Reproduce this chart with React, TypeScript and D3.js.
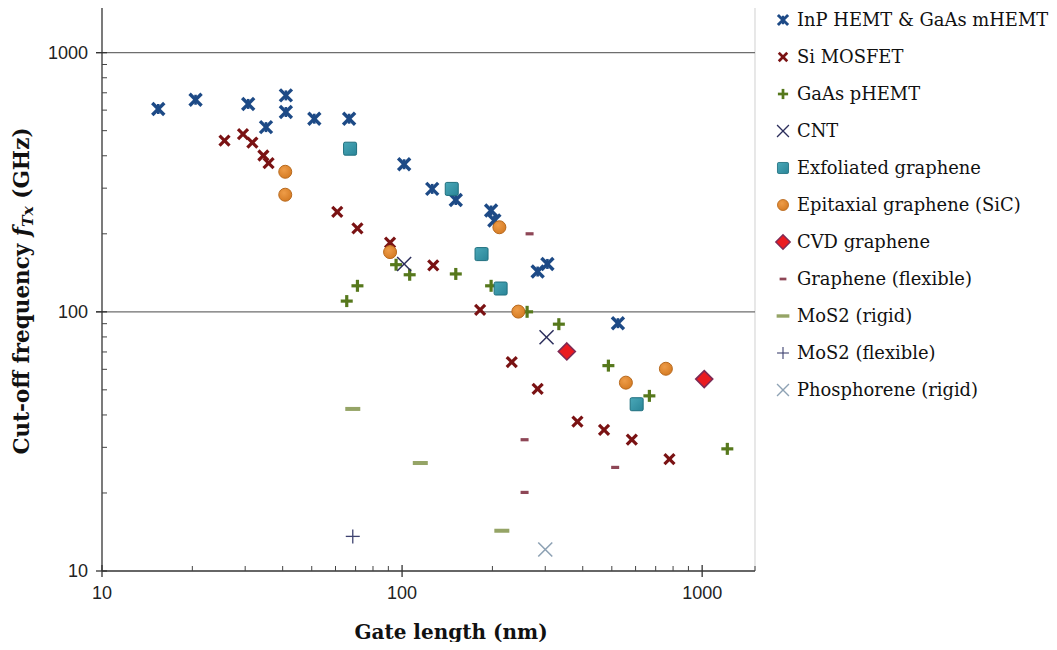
import React from "react";
import * as d3 from "d3";

// Gate length (nm) and cut-off frequency (GHz) per device family
const inpHemtX = [15.4, 20.5, 30.7, 41, 41, 35.2, 51, 66.6, 101.6, 126, 151, 198, 203, 283, 305, 524];
const inpHemtY = [606, 658, 634, 684, 590, 516, 556, 556, 371, 298, 270, 246, 225, 143, 153, 90.4];

const siMosfetX = [25.6, 29.5, 31.7, 34.5, 35.9, 60.8, 71, 91.2, 127, 182, 232, 283, 384, 471, 583, 778];
const siMosfetY = [458, 485, 450, 401, 375, 243, 210, 185, 151, 101.8, 64, 50.4, 37.7, 35, 32.1, 27];

const gaasPhemtX = [65.4, 71, 95.5, 106, 151, 198, 261, 333, 487, 667, 1213];
const gaasPhemtY = [110, 126, 152, 139, 140, 126, 100, 89.6, 62, 47.4, 29.6];

const cntX = [101.6, 303];
const cntY = [153, 79.8];

const exfoliatedX = [67.1, 146.4, 184, 213, 605];
const exfoliatedY = [426, 298, 167, 123, 44];

const epitaxialX = [40.8, 40.8, 91.2, 211, 244, 557, 757];
const epitaxialY = [347, 283, 170, 212, 100.2, 53.3, 60.3];

const cvdX = [354, 1016];
const cvdY = [70.3, 55];

const grapheneFlexX = [266, 256, 513, 256];
const grapheneFlexY = [200, 32.1, 25.1, 20.1];

const mos2RigidX = [68.5, 115, 215];
const mos2RigidY = [42.2, 26.1, 14.3];

const mos2FlexX = [68.5];
const mos2FlexY = [13.6];

const phosphoreneX = [300];
const phosphoreneY = [12.1];

const seriesNames = [
  "InP HEMT & GaAs mHEMT",
  "Si MOSFET",
  "GaAs pHEMT",
  "CNT",
  "Exfoliated graphene",
  "Epitaxial graphene (SiC)",
  "CVD graphene",
  "Graphene (flexible)",
  "MoS2 (rigid)",
  "MoS2 (flexible)",
  "Phosphorene (rigid)",
];

const xMajorTicks = [10, 100, 1000];
const yMajorTicks = [10, 100, 1000];

type Kind =
  | "star" | "xbold" | "plusbold" | "xthin" | "square" | "circle"
  | "diamond" | "dashShort" | "dashLong" | "plusthin" | "xlight";

const seriesKinds: Kind[] = [
  "star", "xbold", "plusbold", "xthin", "square", "circle",
  "diamond", "dashShort", "dashLong", "plusthin", "xlight",
];

const seriesData: [number[], number[]][] = [
  [inpHemtX, inpHemtY],
  [siMosfetX, siMosfetY],
  [gaasPhemtX, gaasPhemtY],
  [cntX, cntY],
  [exfoliatedX, exfoliatedY],
  [epitaxialX, epitaxialY],
  [cvdX, cvdY],
  [grapheneFlexX, grapheneFlexY],
  [mos2RigidX, mos2RigidY],
  [mos2FlexX, mos2FlexY],
  [phosphoreneX, phosphoreneY],
];

const W = 1057;
const H = 650;
const left = 102;
const right = 755;
const top = 7;
const bottom = 571;

const x = d3.scaleLog().domain([10, 1500]).range([left, right]);
const y = d3.scaleLog().domain([10, 1500]).range([bottom, top]);

function Marker({ kind, cx, cy, scale = 1 }: { kind: Kind; cx: number; cy: number; scale?: number }) {
  const t = `translate(${cx},${cy}) scale(${scale})`;
  switch (kind) {
    case "star": {
      const s = 6;
      return (
        <g transform={t} stroke="#1d4a86" strokeWidth={3.4} strokeLinecap="butt">
          <line x1={-s} y1={-s} x2={s} y2={s} />
          <line x1={-s} y1={s} x2={s} y2={-s} />
          <line x1={0} y1={-s + 1} x2={0} y2={s - 1} strokeWidth={2.6} />
        </g>
      );
    }
    case "xbold": {
      const s = 5;
      return (
        <g transform={t} stroke="#7a1213" strokeWidth={3.2}>
          <line x1={-s} y1={-s} x2={s} y2={s} />
          <line x1={-s} y1={s} x2={s} y2={-s} />
        </g>
      );
    }
    case "plusbold": {
      const s = 6;
      return (
        <g transform={t} stroke="#56781c" strokeWidth={3.2}>
          <line x1={-s} y1={0} x2={s} y2={0} />
          <line x1={0} y1={-s} x2={0} y2={s} />
        </g>
      );
    }
    case "xthin": {
      const s = 7;
      return (
        <g transform={t} stroke="#2c2f5c" strokeWidth={1.5}>
          <line x1={-s} y1={-s} x2={s} y2={s} />
          <line x1={-s} y1={s} x2={s} y2={-s} />
        </g>
      );
    }
    case "square":
      return (
        <rect transform={t} x={-6.5} y={-6.5} width={13} height={13} rx={1.5}
          fill="url(#gSquare)" stroke="#1f6f7e" strokeWidth={1} />
      );
    case "circle":
      return <circle transform={t} r={6.5} fill="url(#gCircle)" stroke="#b8691d" strokeWidth={1} />;
    case "diamond": {
      const s = 8.5;
      return (
        <path transform={t} d={`M0,${-s}L${s},0L0,${s}L${-s},0Z`}
          fill="#ea1a20" stroke="#7d2a55" strokeWidth={1.6} />
      );
    }
    case "dashShort":
      return <rect transform={t} x={-4} y={-1.6} width={8} height={3.2} fill="#8e4656" />;
    case "dashLong":
      return <rect transform={t} x={-7.5} y={-2} width={15} height={4} fill="#95a466" />;
    case "plusthin": {
      const s = 7;
      return (
        <g transform={t} stroke="#3e4270" strokeWidth={1.3}>
          <line x1={-s} y1={0} x2={s} y2={0} />
          <line x1={0} y1={-s} x2={0} y2={s} />
        </g>
      );
    }
    case "xlight": {
      const s = 7;
      return (
        <g transform={t} stroke="#8ea2b4" strokeWidth={1.6}>
          <line x1={-s} y1={-s} x2={s} y2={s} />
          <line x1={-s} y1={s} x2={s} y2={-s} />
        </g>
      );
    }
  }
  return null;
}

function minorTicks(lo: number, hi: number): number[] {
  const out: number[] = [];
  for (let d = lo; d < hi; d *= 10) {
    for (let k = 2; k <= 9; k++) {
      const v = d * k;
      if (v < 1500) out.push(v);
    }
  }
  return out;
}

export default function App() {
  const xMinor = minorTicks(10, 1000);
  const yMinor = minorTicks(10, 1000);
  const tickFont = "'Liberation Sans', Arial, sans-serif";
  const serif = "'DejaVu Serif', serif";
  const legendX = 783;
  const legendY0 = 20;
  const legendStep = 37;

  return (
    <svg width={W} height={H} viewBox={`0 0 ${W} ${H}`} style={{ display: "block", margin: "-8px" }}>
      <defs>
        <radialGradient id="gCircle" cx="40%" cy="35%" r="70%">
          <stop offset="0%" stopColor="#ee9c48" />
          <stop offset="100%" stopColor="#d47a22" />
        </radialGradient>
        <linearGradient id="gSquare" x1="0" y1="0" x2="1" y2="1">
          <stop offset="0%" stopColor="#4aa8b8" />
          <stop offset="100%" stopColor="#2a8598" />
        </linearGradient>
      </defs>
      <rect width={W} height={H} fill="#fff" />

      {/* plot frame: light top and right edges */}
      <line x1={left} y1={top} x2={right} y2={top} stroke="#e2e2e2" strokeWidth={1.2} />
      <line x1={right} y1={top} x2={right} y2={bottom} stroke="#d8d8d8" strokeWidth={1.2} />

      {/* major horizontal gridlines */}
      {yMajorTicks.filter((v) => v > 10).map((v) => (
        <line key={`g${v}`} x1={left - 6} x2={right} y1={y(v)} y2={y(v)} stroke="#6e6e6e" strokeWidth={1.3} />
      ))}

      {/* y axis */}
      <line x1={left} y1={top} x2={left} y2={bottom} stroke="#333" strokeWidth={1.3} />
      {yMinor.map((v) => (
        <line key={`ym${v}`} x1={left} x2={left + 5} y1={y(v)} y2={y(v)} stroke="#444" strokeWidth={1} />
      ))}
      {yMajorTicks.map((v) => (
        <g key={`yt${v}`}>
          <line x1={left - 6} x2={left + 5} y1={y(v)} y2={y(v)} stroke="#333" strokeWidth={1.3} />
          <text x={left - 14} y={y(v)} dy="0.36em" textAnchor="end" fontFamily={tickFont} fontSize={18} fill="#222">
            {v}
          </text>
        </g>
      ))}

      {/* x axis */}
      <line x1={left} y1={bottom} x2={right} y2={bottom} stroke="#333" strokeWidth={1.3} />
      {xMinor.map((v) => (
        <line key={`xm${v}`} x1={x(v)} x2={x(v)} y1={bottom} y2={bottom - 5} stroke="#444" strokeWidth={1} />
      ))}
      {xMajorTicks.map((v) => (
        <g key={`xt${v}`}>
          <line x1={x(v)} x2={x(v)} y1={bottom - 6} y2={bottom + 6} stroke="#333" strokeWidth={1.3} />
          <text x={x(v)} y={bottom + 28} textAnchor="middle" fontFamily={tickFont} fontSize={18} fill="#222">
            {v}
          </text>
        </g>
      ))}
      <line x1={right} y1={bottom} x2={right} y2={bottom - 5} stroke="#444" strokeWidth={1} />

      {/* data */}
      {seriesData.map(([xs, ys], si) =>
        xs.map((xv, i) => (
          <Marker key={`${si}-${i}`} kind={seriesKinds[si]} cx={x(xv)} cy={y(ys[i])} />
        ))
      )}

      {/* axis titles */}
      <text x={451} y={639} textAnchor="middle" fontFamily={serif} fontWeight="bold" fontSize={20} fill="#111">
        Gate length (nm)
      </text>
      <text transform="translate(29,291) rotate(-90)" textAnchor="middle" fontFamily={serif} fontWeight="bold" fontSize={21.5} fill="#111">
        Cut-off frequency <tspan fontStyle="italic">f</tspan>
        <tspan fontStyle="italic" fontSize={15.5} dy={4}>Tx</tspan>
        <tspan dy={-4}> (GHz)</tspan>
      </text>

      {/* legend */}
      {seriesNames.map((name, i) => {
        const ly = legendY0 + i * legendStep;
        return (
          <g key={name}>
            <Marker kind={seriesKinds[i]} cx={legendX} cy={ly} scale={0.85} />
            <text x={legendX + 14} y={ly} dy="0.35em" fontFamily={serif} fontSize={17.9} fill="#111">
              {name}
            </text>
          </g>
        );
      })}
    </svg>
  );
}
